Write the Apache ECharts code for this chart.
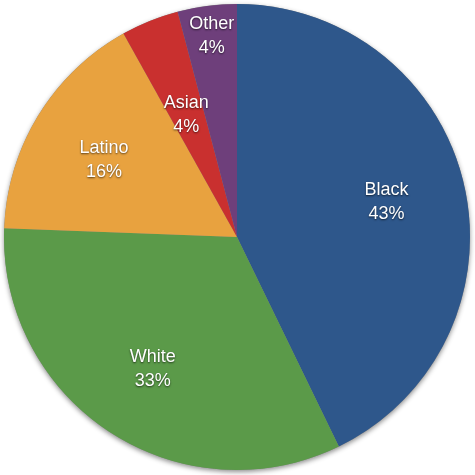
<!DOCTYPE html>
<html><head><meta charset="utf-8">
<script src="https://cdn.jsdelivr.net/npm/echarts@6/dist/echarts.min.js"></script>
<style>html,body{margin:0;padding:0;background:#fff}#c{width:475px;height:475px}</style>
</head><body><div id="c"></div>
<script>
const categories = ['Black', 'White', 'Latino', 'Asian', 'Other'];
const values = [42.8, 32.8, 16.3, 4.0, 4.1];
const percentLabels = ['43%', '33%', '16%', '4%', '4%'];
const colors = ['#2E578B', '#5B9A49', '#E8A23F', '#C9302F', '#6E3F7B'];
const labelOffsets = [[33, -8], [-19, 32], [-31, -15], [-6, -11], [-10, -82]];

const chart = echarts.init(document.getElementById('c'), null, {renderer: 'canvas'});
chart.setOption({
  animation: false,
  series: [{
    type: 'pie',
    z: 1,
    silent: true,
    center: [237, 237],
    radius: [0, 233],
    label: {show: false},
    labelLine: {show: false},
    itemStyle: {color: '#888', shadowBlur: 5, shadowColor: 'rgba(0,0,0,0.45)', shadowOffsetY: 2},
    data: [{value: 1, name: 'bg'}]
  }, {
    type: 'pie',
    z: 2,
    center: [237, 237],
    radius: [0, 233],
    startAngle: 90,
    clockwise: true,
    avoidLabelOverlap: false,
    itemStyle: {borderWidth: 0},
    label: {
      show: true,
      position: 'inside',
      formatter: p => p.name + '\n' + percentLabels[p.dataIndex],
      color: '#fff',
      fontFamily: 'Liberation Sans, Arial, sans-serif',
      fontSize: 18,
      lineHeight: 24,
      textShadowColor: 'rgba(0,0,0,0.65)',
      textShadowBlur: 2,
      textShadowOffsetY: 1
    },
    labelLine: {show: false},
    emphasis: {disabled: true},
    data: categories.map((n, i) => ({
      name: n, value: values[i],
      itemStyle: {color: colors[i]},
      label: {offset: labelOffsets[i]}
    }))
  }]
});
</script></body></html>
